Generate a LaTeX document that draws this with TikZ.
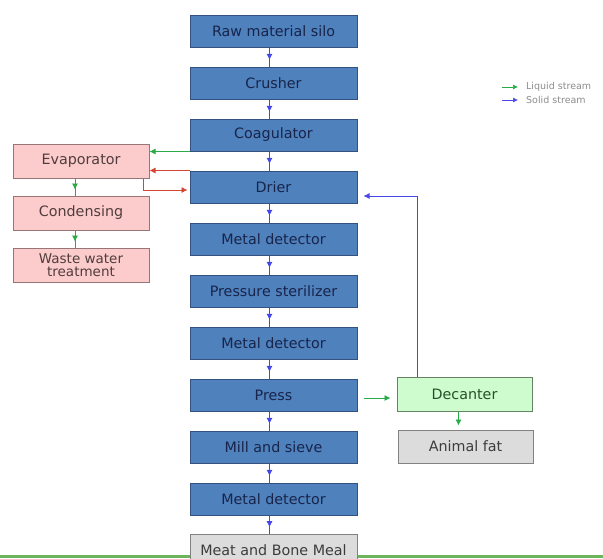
\documentclass[tikz,border=0pt]{standalone}
\usepackage{fontspec}
\setsansfont{DejaVu Sans}
\usepackage{xcolor}
\usetikzlibrary{arrows.meta,decorations.markings}

\definecolor{procfill}{RGB}{79,129,189}
\definecolor{procedge}{RGB}{52,82,128}
\definecolor{proctext}{RGB}{24,36,74}
\definecolor{pinkfill}{RGB}{252,204,204}
\definecolor{pinkedge}{RGB}{150,118,118}
\definecolor{pinktext}{RGB}{80,60,60}
\definecolor{greenfill}{RGB}{206,252,206}
\definecolor{greenedge}{RGB}{100,130,100}
\definecolor{greentext}{RGB}{40,80,40}
\definecolor{greyfill}{RGB}{220,220,220}
\definecolor{greyedge}{RGB}{130,130,130}
\definecolor{greytext}{RGB}{60,60,60}
\definecolor{solidcol}{RGB}{70,70,235}
\definecolor{liquidcol}{RGB}{40,170,70}
\definecolor{vapourcol}{RGB}{210,70,50}
\definecolor{floorcol}{RGB}{110,180,90}

\begin{document}
\begin{tikzpicture}[x=1pt,y=-1pt,
  box/.style={rectangle,draw,line width=1pt,inner sep=0pt,minimum width=167pt,minimum height=32pt,
    align=center,font=\sffamily\fontsize{14.3}{13.5}\selectfont},
  proc/.style={box,fill=procfill,draw=procedge,text=proctext},
  side/.style={box,fill=pinkfill,draw=pinkedge,text=pinktext,minimum width=136pt,minimum height=34pt},
  sep/.style={box,fill=greenfill,draw=greenedge,text=greentext,minimum width=135pt,minimum height=34pt},
  product/.style={box,fill=greyfill,draw=greyedge,text=greytext},
  legendtext/.style={anchor=west,inner sep=0pt,text=black!45,font=\sffamily\fontsize{9.5}{11}\selectfont},
  solidflow/.style={draw=solidcol,line width=0.7pt},
  liquidflow/.style={draw=liquidcol,line width=0.7pt},
  vapourflow/.style={draw=vapourcol,line width=0.7pt},
  tip/.style={-{Latex[length=6pt,width=6pt]}},
  midsolid/.style={solidflow,postaction={decorate},decoration={markings,
    mark=at position .65 with {\arrow[solidcol]{Latex[length=6pt,width=6pt]}}}},
  midliquid/.style={liquidflow,postaction={decorate},decoration={markings,
    mark=at position .65 with {\arrow[liquidcol]{Latex[length=6pt,width=6pt]}}}}]

\useasboundingbox (0,0) rectangle (603,558);
\clip (0,0) rectangle (603,558);

\draw[draw=floorcol,line width=2.5pt] (0,556.5) -- (603,556.5);

% main line
\node[proc] (silo) at (273.5,31) {Raw material silo};
\node[proc] (crush) at (273.5,83) {Crusher};
\node[proc] (coag) at (273.5,135) {Coagulator};
\node[proc] (drier) at (273.5,187) {Drier};
\node[proc] (detA) at (273.5,239) {Metal detector};
\node[proc] (steril) at (273.5,291) {Pressure sterilizer};
\node[proc] (detB) at (273.5,343) {Metal detector};
\node[proc] (press) at (273.5,395) {Press};
\node[proc] (mill) at (273.5,447) {Mill and sieve};
\node[proc] (detC) at (273.5,499) {Metal detector};
\node[product] (meal) at (273.5,550) {Meat and Bone Meal};

% water side
\node[side] (evap) at (81,161) {Evaporator};
\node[side] (cond) at (81,213) {Condensing};
\node[side,font=\sffamily\fontsize{13.5}{13}\selectfont] (waste) at (81,265) {Waste water\\treatment};

% fat side
\node[sep] (dec) at (464.5,394.5) {Decanter};
\node[product,minimum width=135pt,minimum height=33pt] (fat) at (465.5,446.5) {Animal fat};

% legend
\node[legendtext] (liq) at (526,87) {Liquid stream};
\node[legendtext] (sol) at (526,100) {Solid stream};
\coordinate (liqa) at (502,87);
\coordinate (sola) at (502,100);

\draw[midsolid] ([xshift=-4pt]silo.south) -- ([xshift=-4pt]crush.north);
\draw[midsolid] ([xshift=-4pt]crush.south) -- ([xshift=-4pt]coag.north);
\draw[midsolid] ([xshift=-4pt]coag.south) -- ([xshift=-4pt]drier.north);
\draw[midsolid] ([xshift=-4pt]drier.south) -- ([xshift=-4pt]detA.north);
\draw[midsolid] ([xshift=-4pt]detA.south) -- ([xshift=-4pt]steril.north);
\draw[midsolid] ([xshift=-4pt]steril.south) -- ([xshift=-4pt]detB.north);
\draw[midsolid] ([xshift=-4pt]detB.south) -- ([xshift=-4pt]press.north);
\draw[midsolid] ([xshift=-4pt]press.south) -- ([xshift=-4pt]mill.north);
\draw[midsolid] ([xshift=-4pt]mill.south) -- ([xshift=-4pt]detC.north);
\draw[midsolid] ([xshift=-4pt]detC.south) -- ([xshift=-4pt]meal.north);

\draw[midliquid] ([xshift=-6pt]evap.south) -- ([xshift=-6pt]cond.north);
\draw[midliquid] ([xshift=-6pt]cond.south) -- ([xshift=-6pt]waste.north);

\draw[liquidflow,tip] (coag.south west) -- (coag.south west -| evap.east);
\draw[vapourflow,tip] (drier.north west) -- (drier.north west -| evap.east);
\draw[vapourflow,tip,shorten >=2pt] ([xshift=-6pt]evap.south east) |- ([yshift=-3pt]drier.west);

\draw[liquidflow,tip,shorten <=6pt,shorten >=6pt] ([yshift=-3pt]press.east) -- ([yshift=-3pt]press.east -| dec.west);
\draw[liquidflow,tip,shorten >=4pt] ([xshift=-6pt]dec.south) -- ([xshift=-6pt]dec.south |- fat.north);
\draw[solidflow,tip,shorten >=6pt] ([xshift=21pt]dec.north west) |- ([yshift=-9pt]drier.east);

\draw[liquidflow,-{Latex[length=5pt,width=5pt]},shorten >=8pt] (liqa) -- (liq.west);
\draw[solidflow,-{Latex[length=5pt,width=5pt]},shorten >=8pt] (sola) -- (sol.west);

\end{tikzpicture}
\end{document}
